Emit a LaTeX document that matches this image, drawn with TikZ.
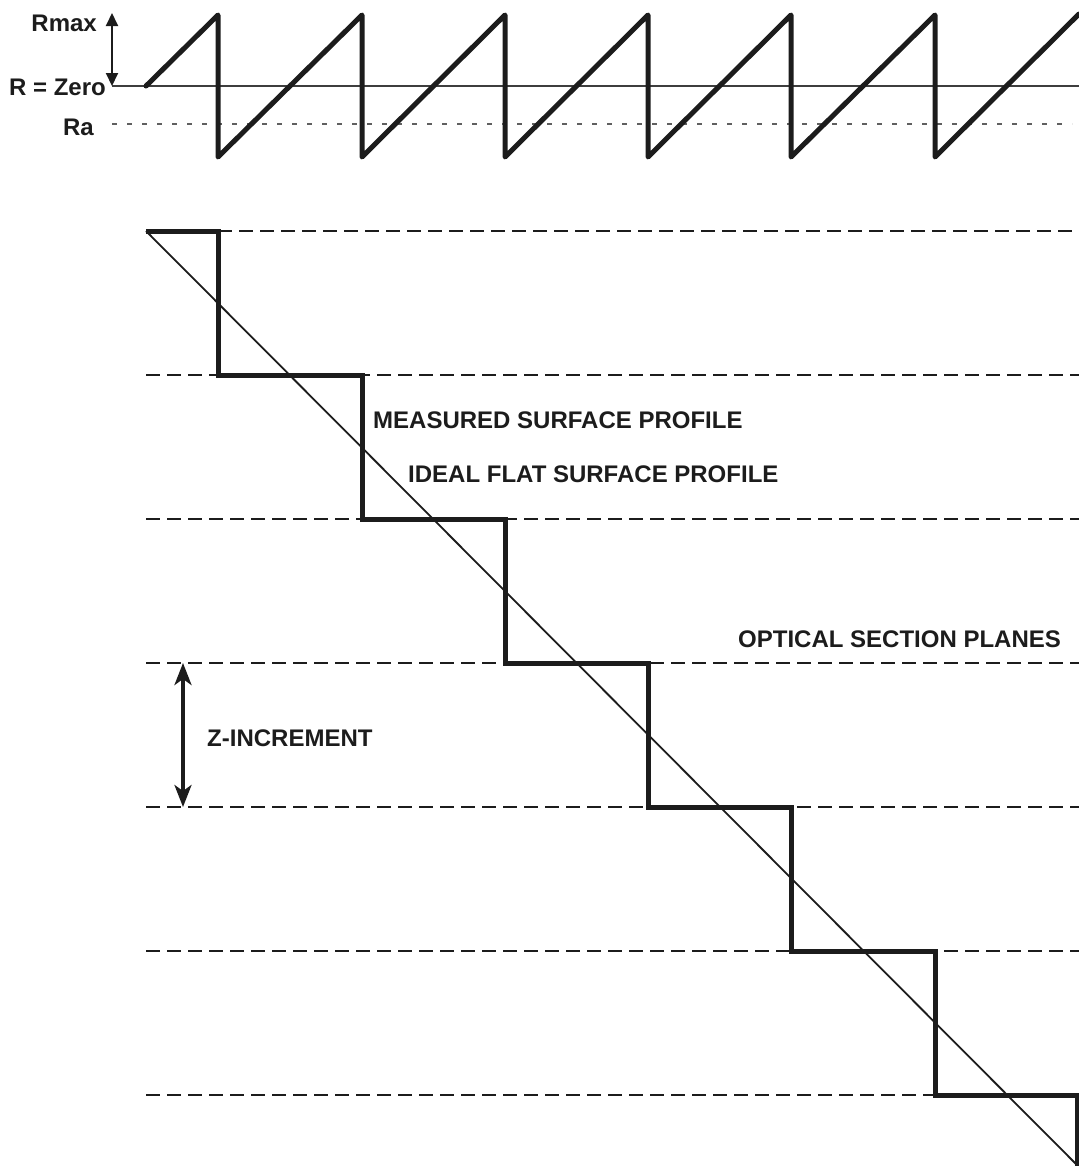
\documentclass[tikz,border=0pt]{standalone}
\usepackage{fontspec}
\setmainfont{Liberation Sans}
\usetikzlibrary{arrows.meta}
\definecolor{ink}{HTML}{1C1C1C}
\tikzset{
  lbl/.style={inner sep=0pt, text=ink, font=\fontsize{24}{28}\selectfont\bfseries},
  thickprof/.style={draw=ink, line width=5pt, line join=round, line cap=round},
  idealline/.style={draw=ink, line width=1.8pt},
  plane/.style={draw=ink, line width=2.4pt, dash pattern=on 14pt off 7pt},
  zeroline/.style={draw=ink!85, line width=1.5pt},
  raline/.style={draw=ink!70, line width=1.5pt, dash pattern=on 5pt off 10pt},
  dimarrow/.style={draw=ink, line width=3.5pt, {Stealth[length=22pt,width=17pt,inset=6pt]}-{Stealth[length=22pt,width=17pt,inset=6pt]}},
  smallarrow/.style={draw=ink, line width=2pt, {Triangle[length=13pt,width=12pt]}-{Triangle[length=13pt,width=12pt]}}
}
\begin{document}
\begin{tikzpicture}[x=1pt,y=-1pt]
\useasboundingbox (0,0) rectangle (1079,1171);
% ---------- top: roughness profile ----------
\coordinate (zl) at (112,86);
\coordinate (zr) at (1079,86);
\coordinate (ral) at (112,124);
\coordinate (rar) at (1072,124);
\coordinate (rmt) at (112,13);
\draw[zeroline] (zl) -- (zr);
\draw[raline] (ral) -- (rar);
\draw[smallarrow] (rmt) -- (zl);
\draw[thickprof] (146,86) -- (218,15) -- (218,157) -- (362,15) -- (362,157)
  -- (505,15) -- (505,157) -- (648,15) -- (648,157) -- (791,15) -- (791,157)
  -- (935,15) -- (935,157) -- (1079,14);
\node[lbl, anchor=east] (rmax) at (97,23) {Rmax};
\node[lbl, anchor=east] (rzero) at (106,87) {R = Zero};
\node[lbl, anchor=east] (ra) at (94,127) {Ra};
% ---------- bottom: optical sections ----------
\foreach \y/\xs/\xe in {231/218/1079, 375/146/1079, 519/146/1079, 663/146/1079, 807/146/1079, 951/146/1079, 1095/146/935}{
  \draw[plane] (\xs,\y) -- (\xe,\y);
}
\coordinate (dstart) at (146,231);
\coordinate (dend) at (1077,1165);
\draw[idealline] (dstart) -- (dend);
\draw[thickprof, line cap=butt, line join=miter] (146,231) -- (218,231) -- (218,375) -- (362,375) -- (362,519)
  -- (505,519) -- (505,663) -- (648,663) -- (648,807) -- (791,807)
  -- (791,951) -- (935,951) -- (935,1095) -- (1077,1095) -- (1077,1166);
\coordinate (zt) at (183,663);
\coordinate (zb) at (183,807);
\draw[dimarrow] (zt) -- (zb);
\node[lbl, anchor=west] (zinc) at (207,738) {Z-INCREMENT};
\node[lbl, anchor=west] (meas) at (373,420) {MEASURED SURFACE PROFILE};
\node[lbl, anchor=west] (ideal) at (408,474) {IDEAL FLAT SURFACE PROFILE};
\node[lbl, anchor=west] (opt) at (738,639) {OPTICAL SECTION PLANES};
\end{tikzpicture}
\end{document}
